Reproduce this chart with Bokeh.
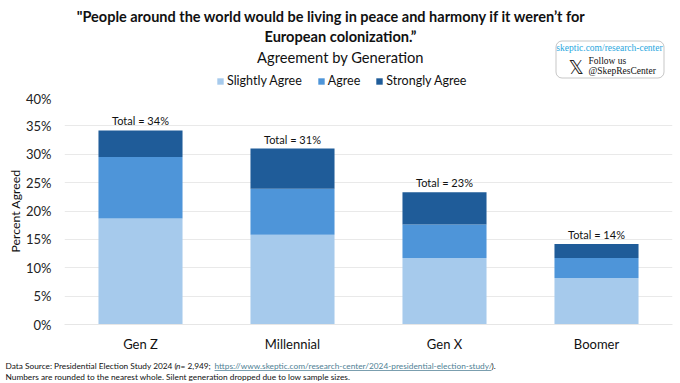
from bokeh.plotting import figure
from bokeh.embed import file_html
from bokeh.layouts import column
from bokeh.resources import INLINE
from bokeh.models import Label, BoxAnnotation, Legend, LegendItem, PrintfTickFormatter, FixedTicker, ColumnDataSource

generations = ["Gen Z", "Millennial", "Gen X", "Boomer"]
slightly = [18.7, 15.8, 11.7, 8.2]
agree = [10.8, 8.1, 5.9, 3.5]
strongly = [4.7, 7.1, 5.7, 2.5]
totals = [34, 31, 23, 14]
y_ticks = [0, 5, 10, 15, 20, 25, 30, 35, 40]
series = ["Slightly Agree", "Agree", "Strongly Agree"]
colors = ["#a6caec", "#4e95d9", "#1f5c99"]

W = 680
HEAD_H, MAIN_H, FOOT_H = 90, 264, 29
FONT = "Lato"
SERIF = "Liberation Serif"
LINK = "#4f7f95"


def strip(height):
    """A figure without axes whose frame fills it, to hold texts outside the chart's frame."""
    f = figure(width=W, height=height, x_range=(0, W), y_range=(0, height), output_backend="svg",
               toolbar_location=None, min_border=0, x_axis_location=None, y_axis_location=None,
               outline_line_color=None, frame_align=False)
    f.grid.visible = False
    return f


def label(f, bottom, x, y, text, size, align="left", style="normal", color="#111111", font=FONT):
    """Place a text at page pixels (x, y = vertical middle) in strip f whose lower edge is at page y=bottom."""
    f.add_layout(Label(x=x, y=bottom - y, x_units="screen", y_units="screen", text=text,
                       text_font=font, text_font_size=f"{size}px", text_font_style=style,
                       text_color=color, text_align=align, text_baseline="middle"))


def box(f, bottom, left, right, top, low, **kw):
    f.add_layout(BoxAnnotation(left=left, right=right, top=bottom - top, bottom=bottom - low,
                               left_units="screen", right_units="screen", top_units="screen",
                               bottom_units="screen", **kw))


# ---- header: title, subtitle, legend, badge
head = strip(HEAD_H)
HB = HEAD_H
dummies = [head.vbar(x=[-50], top=[0], width=1, color=c, line_color=None) for c in colors]
head.add_layout(Legend(items=[LegendItem(label=s, renderers=[d]) for s, d in zip(series, dummies)],
                       orientation="horizontal", location=(216, 2), background_fill_alpha=0,
                       border_line_color=None, label_text_font=FONT, label_text_font_size="12.5px",
                       label_text_color="#111111", glyph_width=8, glyph_height=8, spacing=15,
                       label_standoff=3, margin=0, padding=0))
label(head, HB, 331, 16, "\"People around the world would be living in peace and harmony if it weren’t for", 14.5, "center", "bold")
label(head, HB, 340, 36, "European colonization.”", 14.6, "center", "bold")
label(head, HB, 340, 56, "Agreement by Generation", 14.7, "center")
box(head, HB, 555.5, 663.5, 40.5, 77.5, fill_color="white", fill_alpha=1, line_color="#444444", line_width=1, border_radius=6)
label(head, HB, 609, 47.5, "skeptic.com/research-center", 9.5, "center", color="#2aa7e0", font=SERIF)
label(head, HB, 568, 66, "\U0001D54F", 19, "left", font="DejaVu Sans", color="#222222")
label(head, HB, 588, 60, "Follow us", 9.5, font=SERIF)
label(head, HB, 588, 70, "@SkepResCenter", 9.5, font=SERIF)

# ---- chart
src = ColumnDataSource(dict(g=generations, s0=slightly, s1=agree, s2=strongly,
                            top=[a + b + c for a, b, c in zip(slightly, agree, strongly)],
                            lab=[f"Total = {t}%" for t in totals]))
p = figure(width=W, height=MAIN_H, x_range=generations, y_range=(0, 40), output_backend="svg",
           toolbar_location=None, min_border_left=64, min_border_right=8, min_border_top=7,
           min_border_bottom=28, background_fill_color="white", border_fill_color="white",
           outline_line_color=None, frame_align=False)
p.vbar_stack(["s0", "s1", "s2"], x="g", width=0.553, color=colors, source=src, line_color=None)
p.text(x="g", y="top", text="lab", source=src, y_offset=-3, text_align="center",
       text_baseline="bottom", text_font_size="11px", text_color="#111111",
       text_font={"value": FONT})
p.yaxis.ticker = FixedTicker(ticks=y_ticks)
p.yaxis.formatter = PrintfTickFormatter(format="%d%%")
p.yaxis.axis_label = "Percent Agreed"
p.yaxis.axis_label_text_font = FONT
p.yaxis.axis_label_text_font_style = "normal"
p.yaxis.axis_label_text_font_size = "12.3px"
p.yaxis.axis_label_text_color = "#111111"
p.yaxis.axis_label_standoff = 0
p.yaxis.major_label_text_font = FONT
p.yaxis.major_label_text_font_size = "13px"
p.yaxis.major_label_text_color = "#222222"
p.yaxis.major_label_standoff = 13
p.xaxis.major_label_text_font = FONT
p.xaxis.major_label_text_font_size = "13px"
p.xaxis.major_label_text_color = "#111111"
p.xaxis.major_label_standoff = 11
for ax in (p.xaxis, p.yaxis):
    ax.axis_line_color = None
    ax.major_tick_line_color = None
    ax.minor_tick_line_color = None
    ax.major_tick_out = 0
    ax.major_tick_in = 0
p.xaxis.axis_line_color = "#e6e6e6"
p.xgrid.grid_line_color = None
p.ygrid.grid_line_color = "#e9e9e9"
p.ygrid.grid_line_width = 1

# ---- footer: source note
foot = strip(FOOT_H)
FB = HEAD_H + MAIN_H + FOOT_H
F = 8.3
label(foot, FB, 5, 365, "Data Source: Presidential Election Study 2024 (", F)
label(foot, FB, 175.5, 365, "n", F, style="italic")
label(foot, FB, 180, 365, " = 2,949; ", F)
label(foot, FB, 214, 365, "https://www.skeptic.com/research-center/2024-presidential-election-study/", F, color=LINK)
label(foot, FB, 491, 365, ").", F)
box(foot, FB, 214, 491, 369.5, 370.2, fill_color=LINK, fill_alpha=1, line_color=None)
label(foot, FB, 5, 376, "Numbers are rounded to the nearest whole. Silent generation dropped due to low sample sizes.", F)

page = column(head, p, foot, spacing=0)
open("out.html", "w").write(file_html(page, INLINE))
